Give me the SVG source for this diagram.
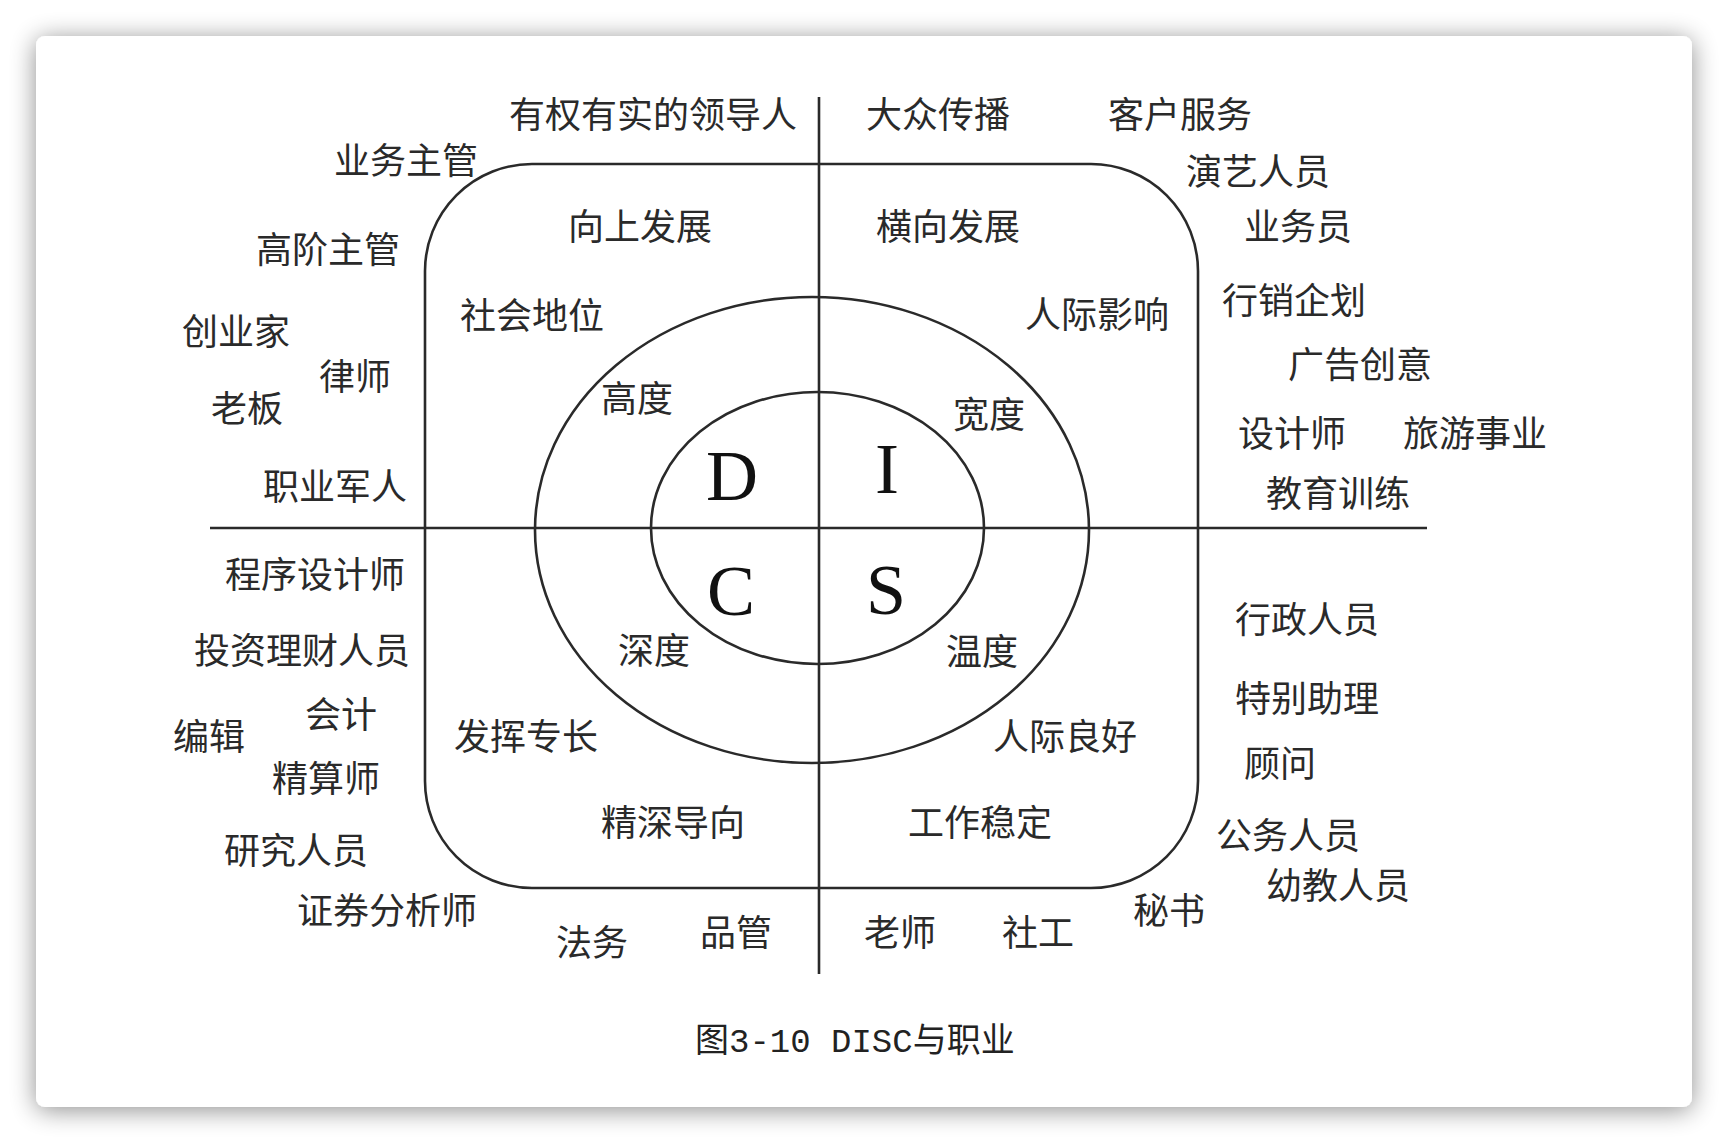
<svg xmlns="http://www.w3.org/2000/svg" width="1728" height="1144" viewBox="0 0 1728 1144">
<style>
.ln{fill:none;stroke:#2a2a2a;stroke-width:2.6}
.t{font-family:"Noto Sans CJK SC","Noto Sans CJK JP",sans-serif;font-size:36px;fill:#2a2a2a;dominant-baseline:central}
.big{font-family:"Liberation Serif","Times New Roman",serif;font-size:72px;fill:#111;text-anchor:middle}
.cap{font-family:"Liberation Mono","Noto Sans CJK SC",monospace;font-size:34px;fill:#222;dominant-baseline:central}
</style>
<defs>
<filter id="sh" x="-10%" y="-10%" width="120%" height="120%">
<feGaussianBlur in="SourceAlpha" stdDeviation="13"/>
<feOffset dx="0" dy="3" result="b"/>
<feComponentTransfer><feFuncA type="linear" slope="0.45"/></feComponentTransfer>
<feMerge><feMergeNode/><feMergeNode in="SourceGraphic"/></feMerge>
</filter>
</defs>
<rect width="1728" height="1144" fill="#ffffff"/>
<rect id="card" x="36" y="36" width="1656" height="1071" rx="9" fill="#ffffff" filter="url(#sh)"/>
<g id="connectors">
<line class="ln" x1="819" y1="97" x2="819" y2="974"/>
<line class="ln" x1="210" y1="528" x2="1427" y2="528"/>
</g>
<g id="outer-square"><rect class="ln" x="425" y="164" width="773" height="724" rx="107" ry="107"/></g>
<g id="outer-ellipse"><ellipse class="ln" cx="812" cy="530" rx="277" ry="233"/></g>
<g id="inner-ellipse"><ellipse class="ln" cx="817.5" cy="528" rx="166.5" ry="136"/></g>
<g id="letters">
<text class="big" x="732" y="500">D</text>
<text class="big" x="887" y="493">I</text>
<text class="big" x="731" y="615">C</text>
<text class="big" x="886" y="614">S</text>
</g>
<g id="labels">
<text class="t" x="509" y="112">有权有实的领导人</text>
<text class="t" x="866" y="112">大众传播</text>
<text class="t" x="1108" y="112">客户服务</text>
<text class="t" x="334" y="158">业务主管</text>
<text class="t" x="1186" y="169">演艺人员</text>
<text class="t" x="568" y="224">向上发展</text>
<text class="t" x="876" y="224">横向发展</text>
<text class="t" x="1244" y="224">业务员</text>
<text class="t" x="256" y="247">高阶主管</text>
<text class="t" x="1222" y="298">行销企划</text>
<text class="t" x="460" y="313">社会地位</text>
<text class="t" x="1025" y="312">人际影响</text>
<text class="t" x="182" y="329">创业家</text>
<text class="t" x="1288" y="362">广告创意</text>
<text class="t" x="319" y="374">律师</text>
<text class="t" x="601" y="396">高度</text>
<text class="t" x="953" y="412">宽度</text>
<text class="t" x="211" y="406">老板</text>
<text class="t" x="1238" y="431">设计师</text>
<text class="t" x="1403" y="431">旅游事业</text>
<text class="t" x="263" y="484">职业军人</text>
<text class="t" x="1266" y="491">教育训练</text>
<text class="t" x="225" y="572">程序设计师</text>
<text class="t" x="1235" y="617">行政人员</text>
<text class="t" x="194" y="648">投资理财人员</text>
<text class="t" x="618" y="648">深度</text>
<text class="t" x="946" y="649">温度</text>
<text class="t" x="1235" y="696">特别助理</text>
<text class="t" x="305" y="712">会计</text>
<text class="t" x="173" y="734">编辑</text>
<text class="t" x="454" y="734">发挥专长</text>
<text class="t" x="993" y="734">人际良好</text>
<text class="t" x="1244" y="761">顾问</text>
<text class="t" x="272" y="776">精算师</text>
<text class="t" x="601" y="820">精深导向</text>
<text class="t" x="908" y="820">工作稳定</text>
<text class="t" x="1216" y="833">公务人员</text>
<text class="t" x="224" y="848">研究人员</text>
<text class="t" x="1266" y="883">幼教人员</text>
<text class="t" x="297" y="908">证券分析师</text>
<text class="t" x="1133" y="908">秘书</text>
<text class="t" x="700" y="930">品管</text>
<text class="t" x="864" y="930">老师</text>
<text class="t" x="1002" y="930">社工</text>
<text class="t" x="556" y="940">法务</text>
</g>
<g id="caption"><text class="cap" x="695" y="1043">图3-10 DISC与职业</text></g>
</svg>
